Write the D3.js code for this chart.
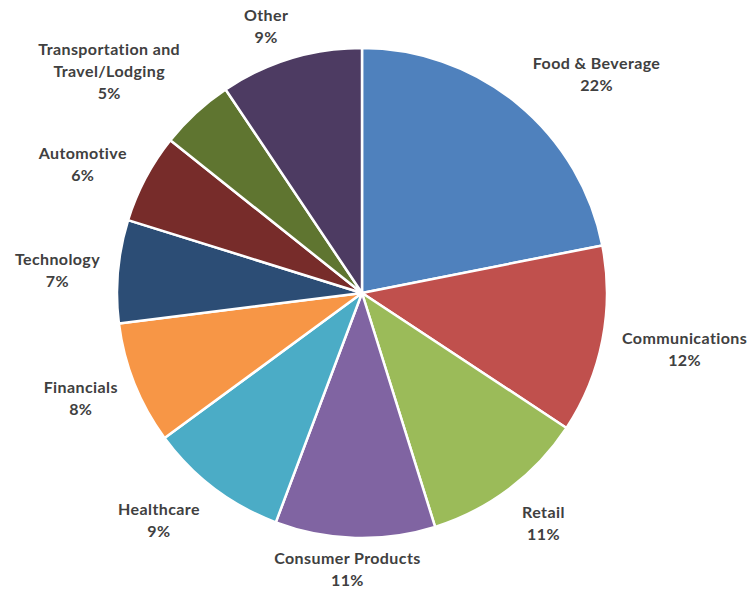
<!DOCTYPE html>
<html><head><meta charset="utf-8">
<script src="https://cdn.jsdelivr.net/npm/d3@7"></script>
<style>html,body{margin:0;padding:0;background:#fff;}svg{display:block;}</style>
</head><body>
<svg id="chart" width="750" height="589"></svg>
<script>
const categories = ["Food & Beverage","Communications","Retail","Consumer Products","Healthcare","Financials","Technology","Automotive","Transportation and\nTravel/Lodging","Other"];
const values = [21.9,12.4,10.9,10.55,9.2,8.1,6.8,5.9,4.9,9.4];
const colors = ["#4F81BD","#C0504D","#9BBB59","#8064A2","#4BACC6","#F79646","#2C4D75","#772C2A","#5F7530","#4D3B62"];

// layout only: small label nudges (px) to mimic the original best-fit placement
const labelNudge = [[14,8],[0,1],[6,-3],[-5,0],[-12,-6],[2,-1],[2,3],[-1,7],[-8,6],[-12,0]];

const W = 750, H = 589, cx = 362, cy = 293, R = 245, gap = 20, lineH = 22;
const svg = d3.select("#chart");
const g = svg.append("g").attr("transform", `translate(${cx},${cy})`);
const total = d3.sum(values);
const pie = d3.pie().sort(null).value(d => d.v);
const data = pie(categories.map((c,i)=>({c, v: values[i], col: colors[i]})));
const arc = d3.arc().innerRadius(0).outerRadius(R);

g.selectAll("path").data(data).join("path")
  .attr("d", arc).attr("fill", d => d.data.col)
  .attr("stroke", "#fff").attr("stroke-width", 2.5).attr("stroke-linejoin","round");

const fmt = v => Math.round(v/total*100) + "%";
const lab = svg.append("g").attr("font-family","Lato, 'Open Sans', sans-serif").attr("font-weight","bold").attr("font-size","16px").attr("letter-spacing","0.4px").attr("fill","#404040");
data.forEach((d, k) => {
  const lines = d.data.c.split("\n").concat([fmt(d.data.v)]);
  const t = lab.append("text").attr("text-anchor","middle");
  lines.forEach((l,i)=> t.append("tspan").attr("x",0).attr("y", i*lineH).text(l));
  let w = 0;
  t.selectAll("tspan").each(function(){ w = Math.max(w, this.getComputedTextLength()); });
  const h = lines.length*lineH;
  const a = (d.startAngle + d.endAngle)/2;
  const dx = Math.sin(a), dy = -Math.cos(a);
  const s = 1/Math.max(Math.abs(dx), Math.abs(dy));
  let bx = cx + (R+gap)*dx + dx*s*w/2;
  let by = cy + (R+gap)*dy + dy*s*h/2;
  by = Math.max(4 + h/2, Math.min(H + 2 - h/2, by));
  bx = Math.max(w/2 + 2, Math.min(W - 2 - w/2, bx));
  bx += labelNudge[k][0]; by += labelNudge[k][1];
  t.attr("transform", `translate(${bx},${by - h/2 + lineH/2 + 5.5})`);
});
</script>
</body></html>
